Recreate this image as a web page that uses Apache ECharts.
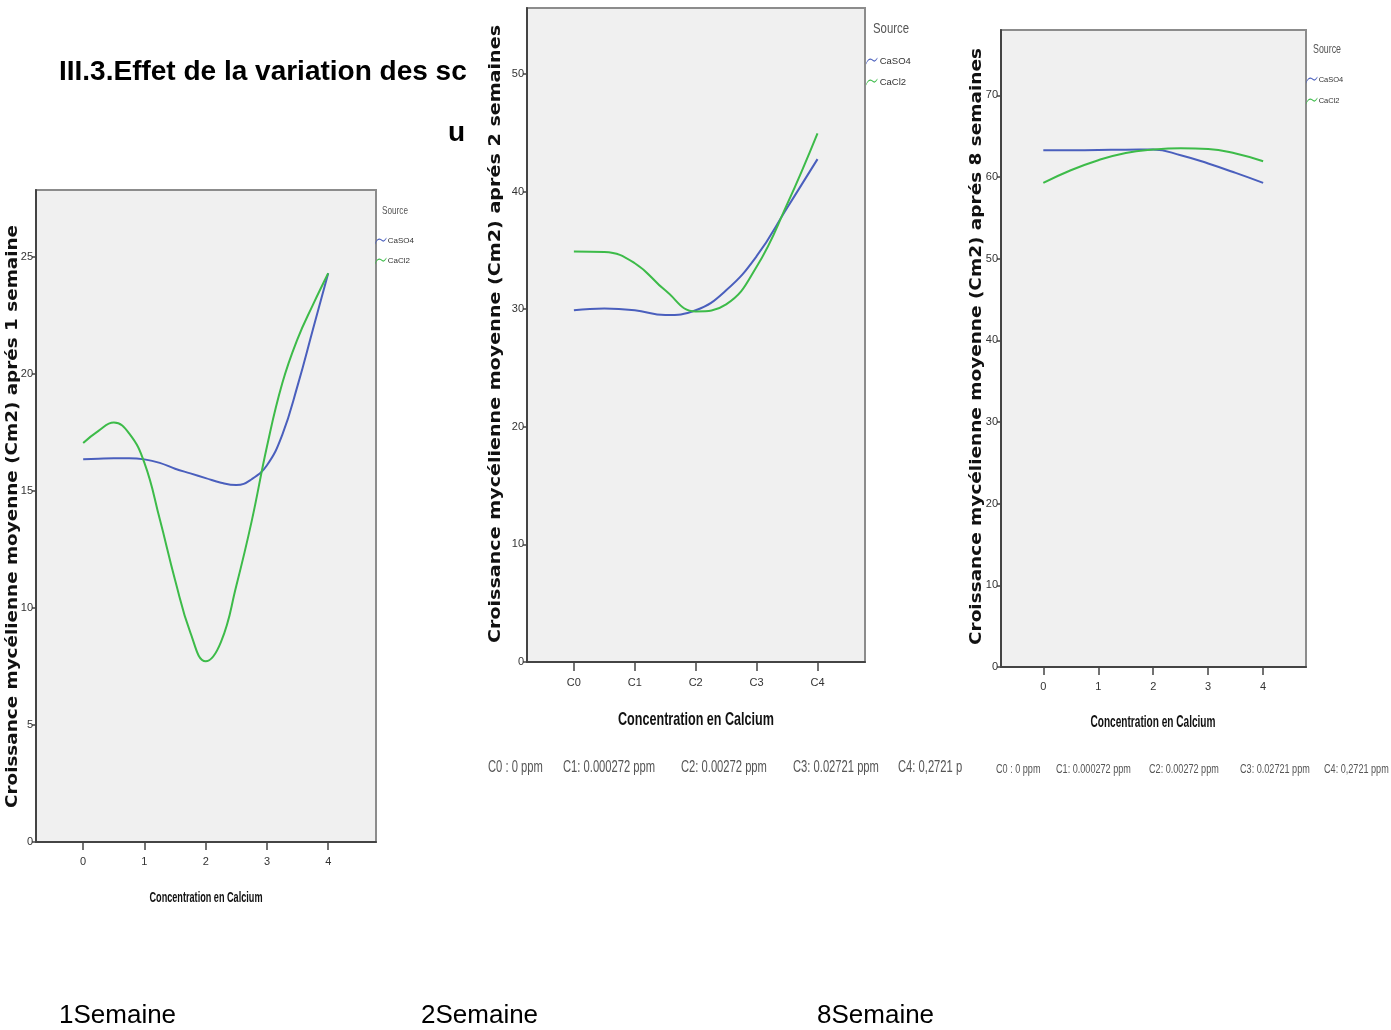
<!DOCTYPE html>
<html>
<head>
<meta charset="utf-8">
<script src="https://cdn.jsdelivr.net/npm/echarts@6/dist/echarts.min.js"></script>
<style>
    html, body { margin: 0; background: #fff; }
    #main { width: 1391px; height: 1030px; }
</style>
</head>
<body>
<div id="main"></div>
<script>
const xSteps1 = [0, 0.25, 0.5, 0.75, 1, 1.25, 1.5, 1.75, 2, 2.25, 2.5, 2.75, 3, 3.25, 3.5, 3.75, 4];
const xSteps = [0, 0.5, 1, 1.5, 2, 2.5, 3, 3.5, 4];

// 1 semaine
const w1CaSO4 = [16.35, 16.38, 16.4, 16.4, 16.35, 16.2, 15.95, 15.75, 15.55, 15.35, 15.25, 15.5, 16.1, 17.4, 19.5, 21.9, 24.3];
const w1CaCl2 = [17.05, 17.57, 17.92, 17.46, 16.2, 13.8, 11.2, 8.95, 7.72, 8.55, 10.95, 13.7, 16.9, 19.6, 21.5, 22.95, 24.3];
// 2 semaines
const w2CaSO4 = [29.9, 30.05, 29.9, 29.5, 29.9, 31.6, 34.5, 38.6, 42.75];
const w2CaCl2 = [34.9, 34.85, 33.9, 31.6, 29.8, 30.4, 33.6, 38.9, 44.95];
// 8 semaines
const w8CaSO4 = [63.28, 63.28, 63.3, 63.35, 63.36, 62.67, 61.65, 60.5, 59.28];
const w8CaCl2 = [59.28, 60.83, 62.06, 62.95, 63.36, 63.52, 63.44, 62.87, 61.93];

const yTicks1 = [0, 5, 10, 15, 20, 25];
const yTicks2 = [0, 10, 20, 30, 40, 50];
const yTicks3 = [0, 10, 20, 30, 40, 50, 60, 70];
const xTicks = [0, 1, 2, 3, 4];
const xLabelsNum = ['0', '1', '2', '3', '4'];
const xLabelsC = ['C0', 'C1', 'C2', 'C3', 'C4'];
const seriesNames = ['CaSO4', 'CaCl2'];
const captions2 = ['C0 : 0 ppm', 'C1: 0.000272 ppm', 'C2: 0.00272 ppm', 'C3: 0.02721 ppm', 'C4: 0,2721 p'];
const captions3 = ['C0 : 0 ppm', 'C1: 0.000272 ppm', 'C2: 0.00272 ppm', 'C3: 0.02721 ppm', 'C4: 0,2721 ppm'];
const weekLabels = ['1Semaine', '2Semaine', '8Semaine'];

const SANS = "'Liberation Sans', Arial, sans-serif";
const colors = ['#4a5fbd', '#3dbb49'];
const waveIcon = 'path://M0,8 C3,1 6,1 9,4 C11,6 13,2 14,1 L14,2.6 C13,3.6 11,7.6 9,5.6 C6,2.6 3,2.6 0,9.6 Z';

const panels = [
    {
        grid: {left: 36, top: 190, width: 340, height: 652},
        yMax: 27.86, yTicks: yTicks1, interval: 5, xLabels: xLabelsNum,
        steps: xSteps1, data: [w1CaSO4, w1CaCl2],
        yName: 'Croissance mycélienne moyenne (Cm2) aprés 1 semaine', yNamePos: [13, 516.5], yNameLen: 583,
        xNamePos: [206, 898], xNameSize: 14, xNameW: 113,
        tickLen: 8, labelMargin: 14,
        legend: {left: 375, top: 235, itemWidth: 12, fontSize: 8, lineHeight: 12, itemGap: 8},
        source: {x: 382, y: 211, size: 11, w: 26}
    },
    {
        grid: {left: 527, top: 8, width: 338, height: 654},
        yMax: 55.6, yTicks: yTicks2, interval: 10, xLabels: xLabelsC,
        steps: xSteps, data: [w2CaSO4, w2CaCl2],
        yName: 'Croissance mycélienne moyenne (Cm2) aprés 2 semaines', yNamePos: [496, 334], yNameLen: 618,
        xNamePos: [696, 720], xNameSize: 19, xNameW: 156,
        tickLen: 9, labelMargin: 15,
        legend: {left: 866, top: 54.5, itemWidth: 14, fontSize: 9.5, lineHeight: 13, itemGap: 8},
        source: {x: 873, y: 29, size: 15, w: 36}
    },
    {
        grid: {left: 1001, top: 30, width: 305, height: 637},
        yMax: 78, yTicks: yTicks3, interval: 10, xLabels: xLabelsNum,
        steps: xSteps, data: [w8CaSO4, w8CaCl2],
        yName: 'Croissance mycélienne moyenne (Cm2) aprés 8 semaines', yNamePos: [977, 346.5], yNameLen: 597,
        xNamePos: [1153, 723], xNameSize: 16, xNameW: 125,
        tickLen: 8, labelMargin: 14,
        legend: {left: 1306, top: 74, itemWidth: 12, fontSize: 7.5, lineHeight: 12, itemGap: 9},
        source: {x: 1313, y: 50, size: 12, w: 28}
    }
];

// width of a string in a given font, used to squeeze or stretch text to the picture
const ctx = document.createElement('canvas').getContext('2d');
function textWidth(text, font) {
    ctx.font = font;
    return ctx.measureText(text).width;
}

let grid = [], xAxis = [], yAxis = [], series = [], legend = [], graphic = [];

panels.forEach((p, i) => {
    grid.push(Object.assign({
        show: true,
        backgroundColor: '#f0f0f0',
        borderColor: '#8c8c8c',
        borderWidth: 2
    }, p.grid));
    xAxis.push({
        type: 'value',
        gridIndex: i,
        min: -0.77,
        max: 4.78,
        splitLine: {show: false},
        axisLine: {onZero: false, lineStyle: {color: '#444', width: 2}},
        axisTick: {customValues: xTicks, length: p.tickLen, lineStyle: {color: '#444', width: 1.5}},
        axisLabel: {
            customValues: xTicks,
            margin: p.labelMargin,
            fontFamily: SANS,
            fontSize: 11,
            color: '#333',
            formatter: v => p.xLabels[Math.round(v)]
        }
    });
    yAxis.push({
        type: 'value',
        gridIndex: i,
        min: 0,
        max: p.yMax,
        interval: p.interval,
        splitLine: {show: false},
        axisLine: {show: true, onZero: false, lineStyle: {color: '#444', width: 2}},
        axisTick: {customValues: p.yTicks, length: 4, lineStyle: {color: '#444', width: 1.5}},
        axisLabel: {customValues: p.yTicks, margin: 3, fontFamily: SANS, fontSize: 11, color: '#333'}
    });
    p.data.forEach((vals, k) => {
        series.push({
            name: seriesNames[k],
            type: 'line',
            xAxisIndex: i,
            yAxisIndex: i,
            smooth: 0.45,
            showSymbol: false,
            symbol: 'none',
            color: colors[k],
            lineStyle: {width: 2, color: colors[k]},
            data: p.steps.map((x, j) => [x, vals[j]])
        });
    });
    legend.push({
        orient: 'vertical',
        left: p.legend.left,
        top: p.legend.top,
        padding: 0,
        itemGap: p.legend.itemGap,
        itemWidth: p.legend.itemWidth,
        itemHeight: 7,
        icon: waveIcon,
        textStyle: {fontFamily: SANS, fontSize: p.legend.fontSize, lineHeight: p.legend.lineHeight, color: '#333', padding: [0, 0, 0, -4]},
        data: seriesNames
    });

    // y axis title: wide bold text, reading upwards
    const yFont = "bold 15px 'DejaVu Sans'";
    graphic.push({
        type: 'text',
        x: p.yNamePos[0],
        y: p.yNamePos[1],
        rotation: Math.PI / 2,
        scaleX: p.yNameLen / textWidth(p.yName, yFont),
        style: {text: p.yName, font: yFont, fill: '#111', align: 'center', verticalAlign: 'middle'}
    });
    // x axis title: condensed bold
    const xFont = 'bold ' + p.xNameSize + "px 'Liberation Sans'";
    graphic.push({
        type: 'text',
        x: p.xNamePos[0],
        y: p.xNamePos[1],
        scaleX: p.xNameW / textWidth('Concentration en Calcium', xFont),
        style: {text: 'Concentration en Calcium', font: xFont, fill: '#111', align: 'center', verticalAlign: 'middle'}
    });
    const sFont = p.source.size + "px 'Liberation Sans'";
    graphic.push({
        type: 'text',
        x: p.source.x,
        y: p.source.y,
        scaleX: p.source.w / textWidth('Source', sFont),
        style: {text: 'Source', font: sFont, fill: '#555', align: 'left', verticalAlign: 'middle'}
    });
});

// document text around the charts
graphic.push({
    type: 'text', x: 59, y: 72,
    style: {text: 'III.3.Effet de la variation des sc', font: "bold 28px 'Liberation Sans'", fill: '#000', verticalAlign: 'middle'}
});
graphic.push({
    type: 'text', x: 448, y: 133,
    style: {text: 'u', font: "bold 28px 'Liberation Sans'", fill: '#000', verticalAlign: 'middle'}
});
[59, 421, 817].forEach((x, i) => {
    graphic.push({
        type: 'text', x: x, y: 1016,
        style: {text: weekLabels[i], font: "26px 'Liberation Sans'", fill: '#000', verticalAlign: 'middle'}
    });
});
[488, 563, 681, 793, 898].forEach((x, i) => {
    graphic.push({
        type: 'text', x: x, y: 768, scaleX: 0.7,
        style: {text: captions2[i], font: "16px 'Liberation Sans'", fill: '#555', verticalAlign: 'middle'}
    });
});
[996, 1056, 1149, 1240, 1324].forEach((x, i) => {
    graphic.push({
        type: 'text', x: x, y: 769, scaleX: 0.7,
        style: {text: captions3[i], font: "13px 'Liberation Sans'", fill: '#555', verticalAlign: 'middle'}
    });
});

const myChart = echarts.init(document.getElementById('main'), null, {renderer: 'canvas'});
myChart.setOption({
    animation: false,
    backgroundColor: '#fff',
    grid: grid,
    xAxis: xAxis,
    yAxis: yAxis,
    legend: legend,
    graphic: graphic,
    series: series
});
</script>
</body>
</html>
